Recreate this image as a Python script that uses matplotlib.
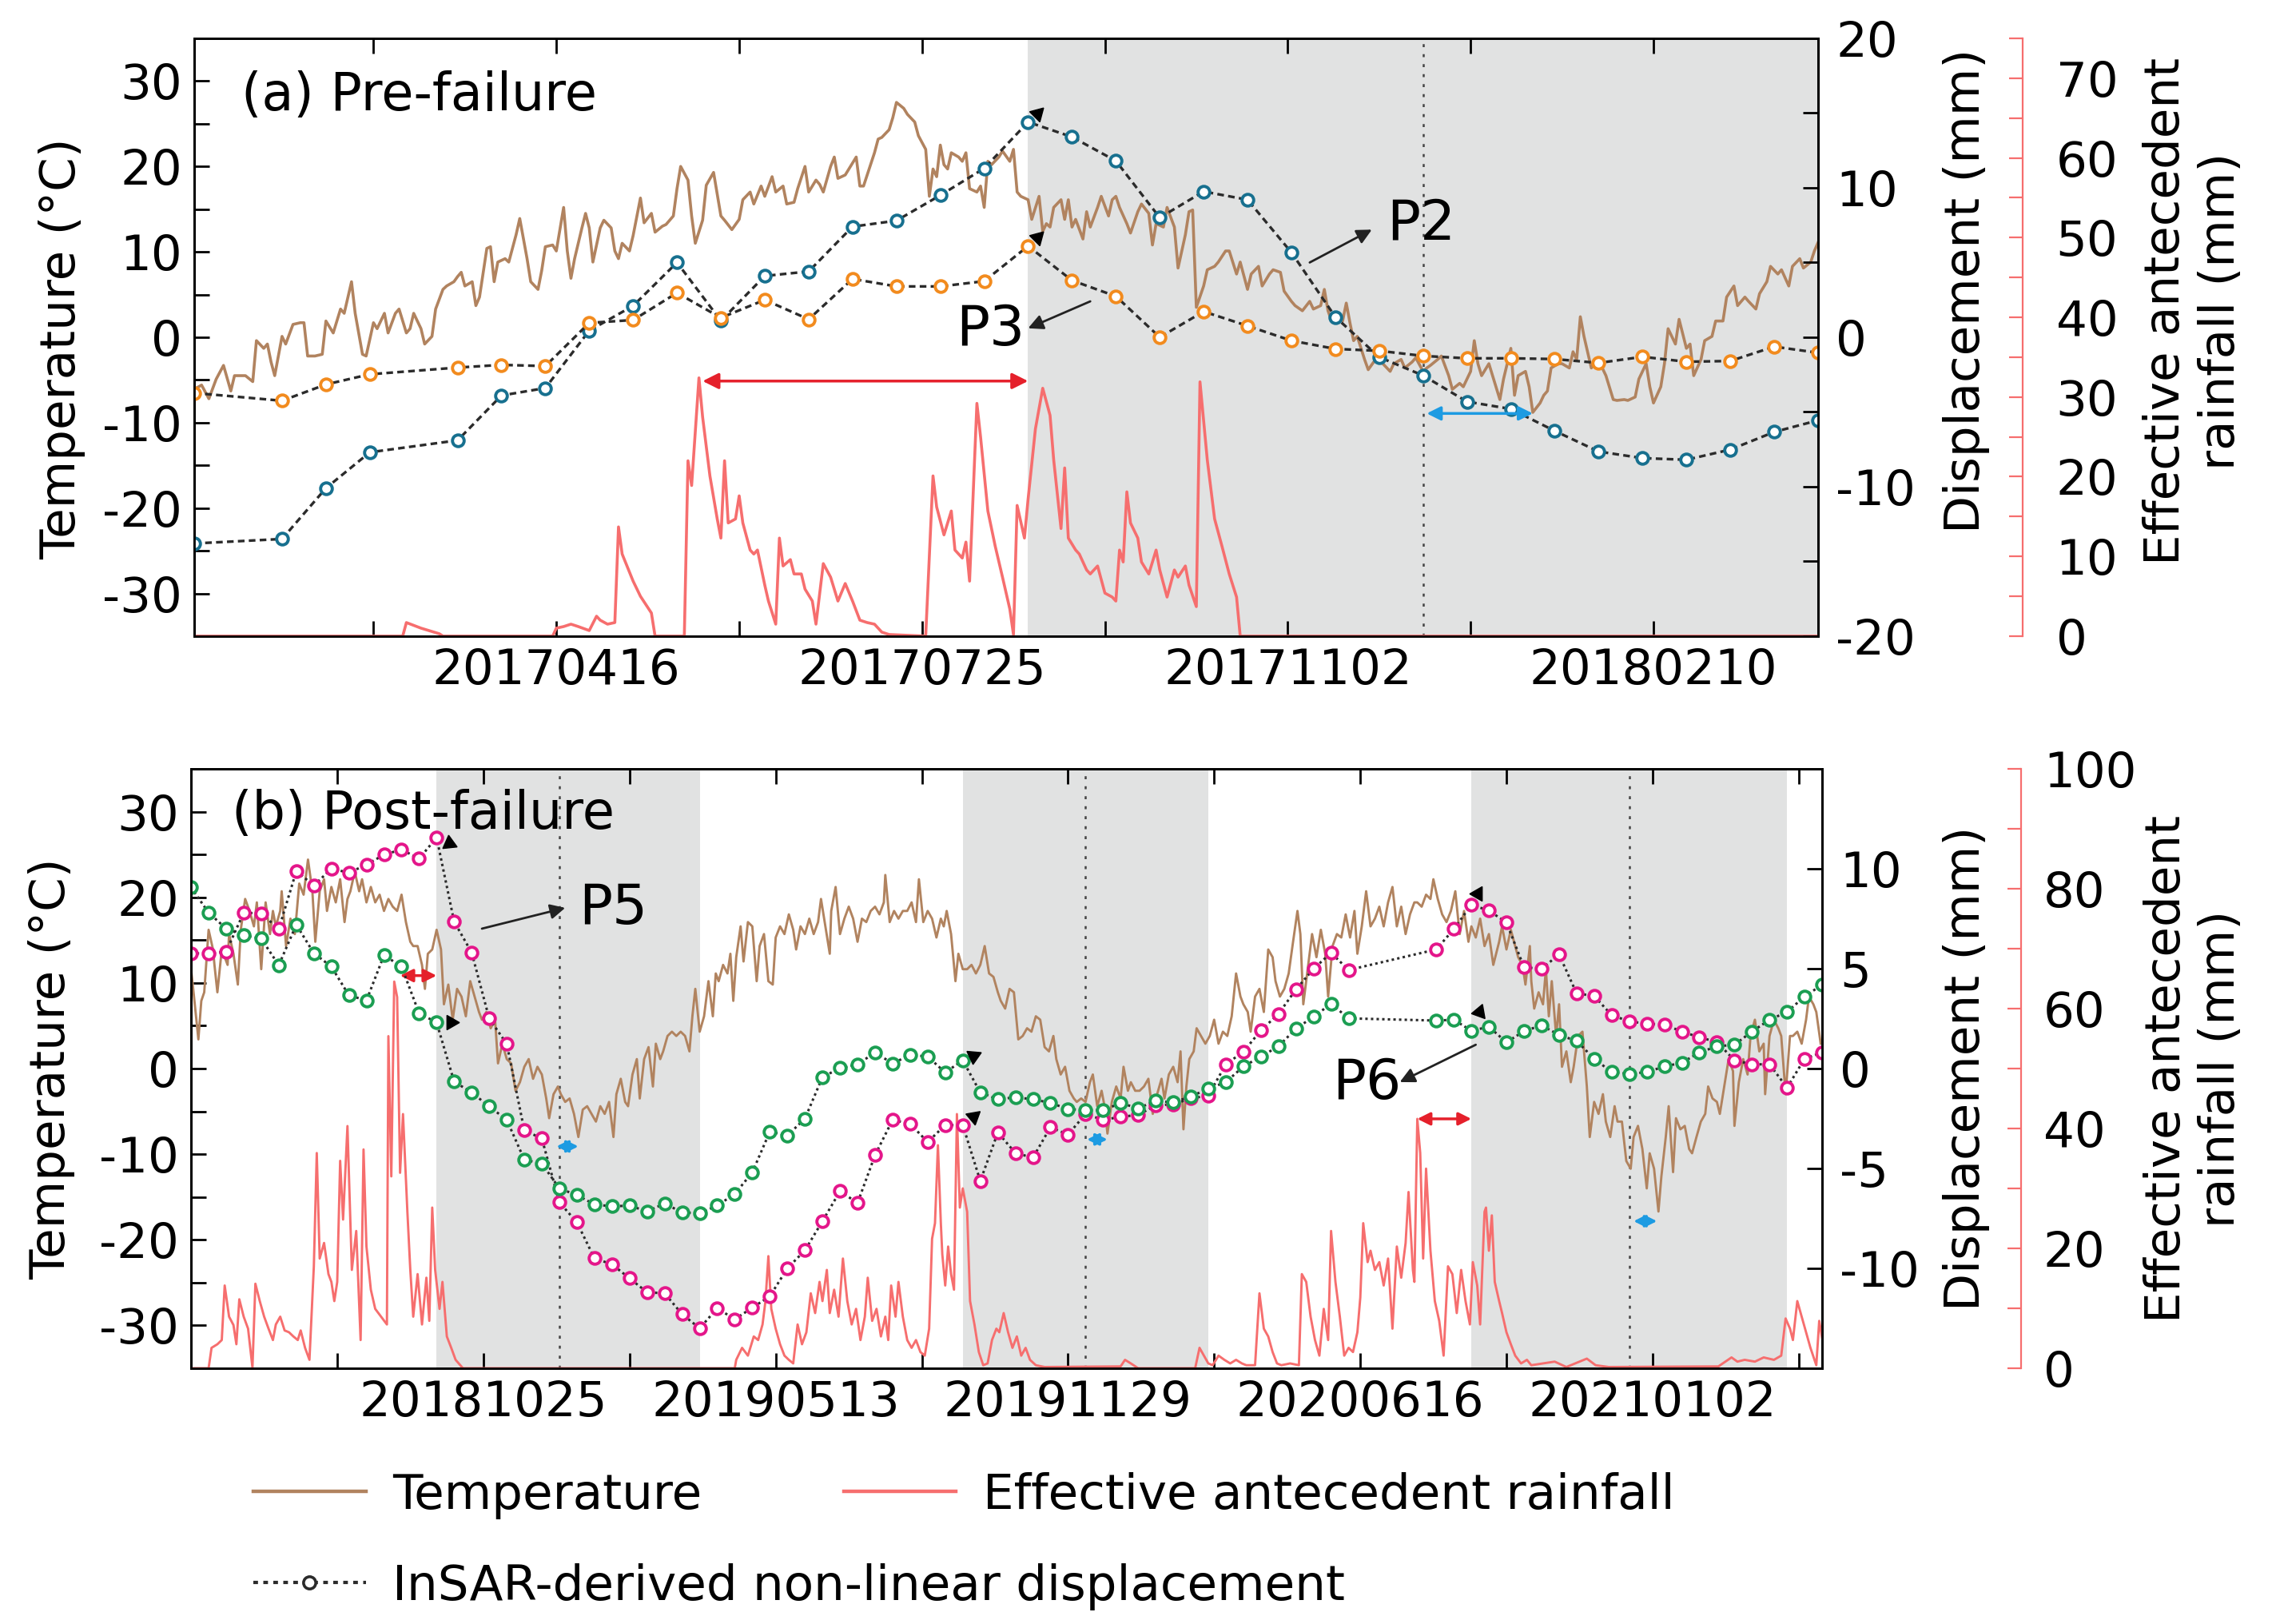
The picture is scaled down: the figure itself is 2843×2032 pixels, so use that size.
import numpy as np
import matplotlib
matplotlib.use('Agg')
import matplotlib.pyplot as plt
import matplotlib.dates as mdates
from matplotlib.lines import Line2D
from matplotlib.ticker import MultipleLocator, FixedLocator
from matplotlib.transforms import ScaledTranslation

plt.rcParams['font.family'] = ['DejaVu Sans']
plt.rcParams['font.size'] = 44
plt.rcParams['axes.linewidth'] = 2.0
plt.rcParams['axes.unicode_minus'] = False

# ---------------- data (days counted from the panel start date) ----------------
START_A = '2017-01-07'
END_A = 444
START_B = '2018-04-08'
END_B = 1116

TICKS_A = ['2017-04-16', '2017-07-25', '2017-11-02', '2018-02-10']
MINOR_A = ['2017-02-25', '2017-06-05', '2017-09-13', '2017-12-22']
TICKS_B = ['2018-10-25', '2019-05-13', '2019-11-29', '2020-06-16', '2021-01-02']
MINOR_B = ['2018-07-17', '2019-02-02', '2019-08-21', '2020-03-08', '2020-09-24', '2021-04-12']

# daily temperature, panel a (day, degC)
TEMP_A = [(0, -6.1), (2, -5.6), (4, -7.2), (6, -4.9), (8, -3.3), (10, -6.3), (11, -4.5), (14, -4.5), (16, -5.2),
          (17, -0.4), (19, -1.3), (20, -0.8), (21, -2.9), (22, -4.5), (24, 0.1), (25, -0.8), (27, 1.5), (29, 1.7),
          (30, 1.7), (31, -2.2), (33, -2.2), (35, -2.0), (36, 1.9), (38, 0.5), (40, 3.3), (41, 2.8), (43, 6.5),
          (44, 2.8), (46, -2.0), (47, -2.2), (49, 1.7), (50, 1.0), (52, 2.8), (53, 0.5), (55, 2.8), (56, 3.3),
          (58, 0.5), (59, 1.0), (60, 2.8), (62, 1.0), (63, -0.8), (65, 0.1), (66, 3.3), (68, 5.6), (69, 6.0),
          (71, 6.5), (72, 7.1), (73, 7.6), (74, 6.0), (76, 6.5), (77, 3.7), (78, 4.7), (80, 10.4), (81, 10.6),
          (82, 6.5), (83, 8.8), (85, 9.2), (86, 8.8), (88, 12.0), (89, 13.9), (91, 9.2), (92, 6.5), (94, 5.6),
          (95, 7.8), (96, 10.6), (98, 10.8), (99, 10.1), (101, 15.2), (102, 10.1), (103, 6.9), (104, 9.2),
          (106, 12.8), (107, 14.5), (108, 12.8), (109, 8.8), (111, 12.8), (112, 13.7), (114, 12.8), (115, 10.1),
          (116, 9.2), (117, 11.0), (119, 10.1), (120, 11.9), (122, 16.3), (123, 13.4), (125, 14.5), (126, 12.3),
          (128, 13.0), (129, 13.2), (131, 14.2), (132, 17.4), (133, 20.0), (135, 18.4), (136, 14.2), (137, 11.0),
          (139, 13.7), (140, 17.8), (142, 19.3), (144, 14.2), (145, 13.7), (147, 12.6), (149, 13.8), (150, 16.1),
          (152, 17.0), (153, 15.6), (155, 17.7), (156, 16.5), (158, 18.8), (159, 17.0), (161, 17.7), (162, 15.6),
          (164, 15.8), (165, 17.4), (167, 20.0), (168, 17.0), (170, 18.4), (171, 17.9), (172, 17.0), (174, 20.0),
          (175, 21.1), (176, 18.6), (178, 19.0), (179, 19.7), (181, 21.1), (182, 17.7), (183, 17.7), (186, 21.6),
          (187, 23.2), (188, 23.4), (190, 24.3), (191, 25.7), (192, 27.5), (194, 26.8), (195, 26.1), (197, 25.2),
          (198, 23.6), (200, 22.0), (201, 16.5), (202, 19.7), (203, 18.8), (204, 22.5), (205, 20.2), (206, 19.7),
          (207, 21.6), (209, 21.1), (210, 20.6), (211, 21.6), (212, 17.4), (214, 17.0), (215, 17.7), (216, 15.2),
          (217, 20.6), (218, 20.2), (220, 21.1), (221, 21.8), (223, 20.6), (224, 22.0), (225, 17.0), (226, 16.5),
          (228, 16.1), (229, 13.8), (231, 16.5), (232, 12.4), (233, 13.3), (234, 12.9), (235, 15.2), (237, 16.1),
          (238, 13.8), (239, 16.1), (240, 12.9), (241, 13.8), (243, 11.5), (244, 14.7), (245, 12.9), (247, 15.2),
          (248, 16.5), (250, 14.2), (251, 16.1), (252, 16.5), (253, 15.2), (255, 13.3), (256, 12.2), (258, 14.7),
          (259, 15.6), (261, 14.5), (262, 10.8), (263, 13.3), (265, 12.9), (266, 15.2), (268, 12.9), (269, 8.1),
          (271, 12.0), (272, 14.7), (273, 14.9), (274, 3.5), (276, 6.0), (277, 7.9), (279, 8.3), (280, 8.8),
          (282, 10.1), (283, 10.1), (285, 7.4), (286, 8.8), (288, 5.6), (289, 7.4), (291, 8.3), (292, 6.0),
          (294, 7.4), (295, 7.9), (297, 7.6), (298, 5.4), (300, 4.2), (301, 3.7), (303, 3.1), (305, 4.2), (306, 3.3),
          (308, 3.7), (309, 5.6), (310, 3.1), (311, 1.9), (313, 2.6), (314, 1.9), (315, 4.0), (316, 1.7),
          (317, -0.4), (318, 0.1), (320, -2.6), (321, -3.8), (323, -2.6), (324, -2.2), (325, -3.1), (327, -4.0),
          (328, -3.1), (330, -2.6), (331, -3.6), (333, -2.9), (334, -2.4), (336, -4.0), (337, -3.6), (338, -3.3),
          (340, -2.6), (341, -2.2), (343, -4.5), (344, -6.1), (346, -5.4), (347, -5.8), (349, -4.0), (350, -0.4),
          (351, -3.1), (352, -4.5), (354, -3.1), (355, -4.5), (357, -7.3), (358, -4.9), (360, -1.3), (361, -6.8),
          (362, -4.5), (364, -4.0), (365, -5.8), (366, -8.8), (368, -7.7), (369, -6.8), (370, -6.3), (371, -3.6),
          (373, -3.1), (374, -3.1), (376, -3.6), (377, -1.7), (378, -2.6), (379, 2.4), (380, 0.1), (382, -3.6),
          (383, -3.1), (385, -3.6), (386, -4.5), (388, -7.3), (389, -7.4), (391, -7.3), (392, -7.4), (394, -7.0),
          (395, -4.9), (397, -3.1), (398, -5.8), (399, -7.7), (401, -5.8), (402, -3.1), (403, 1.0), (405, -0.8),
          (406, 2.1), (408, -1.3), (409, -0.8), (410, -4.5), (412, -2.6), (413, -0.4), (415, 0.1), (416, 1.9),
          (418, 1.9), (419, 4.7), (421, 6.0), (422, 3.7), (424, 4.7), (425, 4.2), (427, 3.3), (428, 5.1),
          (430, 6.5), (431, 8.3), (433, 7.4), (434, 7.9), (436, 6.0), (437, 8.3), (439, 9.2), (440, 8.1),
          (442, 8.8), (443, 10.1), (444, 11.1)]

# effective antecedent rainfall, panel a (day, mm)
RAIN_A = [(0, 0), (57, 0), (58, 1.7), (62, 1.0), (67, 0.3), (68, 0), (98, 0), (99, 1.0), (101, 1.2), (103, 1.5),
          (105, 1.2), (108, 0.7), (110, 2.5), (111, 2.0), (113, 1.5), (115, 1.7), (116, 13.7), (117, 10.3),
          (120, 6.9), (122, 5.0), (125, 2.9), (126, 0), (134, 0), (135, 22.0), (136, 18.9), (138, 32.4),
          (139, 27.5), (141, 20.1), (143, 14.7), (144, 12.3), (145, 22.0), (146, 14.2), (148, 14.7), (149, 17.6),
          (150, 14.2), (152, 10.8), (153, 10.3), (154, 10.8), (156, 6.4), (157, 4.4), (159, 1.5), (160, 12.3),
          (161, 8.8), (163, 9.6), (164, 7.8), (166, 7.8), (167, 5.9), (169, 4.4), (170, 1.5), (172, 9.1),
          (174, 7.4), (176, 4.4), (178, 6.6), (180, 4.4), (182, 2.0), (184, 1.7), (186, 1.5), (188, 0.5),
          (190, 0.2), (200, 0), (202, 20.1), (203, 16.2), (205, 12.7), (207, 15.7), (208, 10.8), (210, 9.8),
          (211, 11.8), (212, 6.9), (214, 29.2), (215, 25.0), (217, 15.7), (219, 11.3), (221, 7.4), (223, 3.4),
          (224, 0.2), (225, 16.4), (227, 12.3), (228, 17.2), (230, 26.0), (232, 31.1), (234, 27.7), (235, 22.1),
          (237, 13.5), (238, 21.1), (239, 12.3), (241, 10.8), (242, 10.3), (244, 8.3), (245, 7.8), (247, 8.8),
          (249, 5.4), (251, 4.9), (252, 4.4), (253, 10.8), (254, 9.3), (255, 18.1), (256, 14.2), (258, 12.3),
          (259, 9.3), (261, 7.8), (263, 10.8), (264, 8.3), (266, 4.9), (268, 8.3), (269, 7.4), (271, 8.8),
          (272, 6.4), (274, 3.7), (275, 31.9), (277, 22.1), (279, 14.7), (281, 11.3), (283, 7.8), (285, 4.9),
          (286, 0), (444, 0)]

# InSAR acquisitions, panel a
SAR_A = [0, 24, 36, 48] + [72 + 12 * k for k in range(32)]
P2 = [-13.8, -13.5, -10.1, -7.7, -6.9, -3.9, -3.4, 0.44, 2.1, 5.0, 1.1, 4.1, 4.4, 7.4, 7.8, 9.5, 11.3, 14.4,
      13.4, 11.8, 8.0, 9.75, 9.2, 5.67, 1.36, -1.33, -2.56, -4.31, -4.8, -6.27, -7.65, -8.09, -8.2, -7.52,
      -6.34, -5.56]
P3 = [-3.73, -4.25, -3.16, -2.48, -2.03, -1.85, -1.93, 0.96, 1.15, 2.97, 1.3, 2.5, 1.2, 3.9, 3.4, 3.4, 3.75, 6.1,
      3.8, 2.74, 0.0, 1.72, 0.76, -0.23, -0.78, -0.91, -1.25, -1.41, -1.41, -1.46, -1.72, -1.31, -1.64, -1.59,
      -0.63, -1.04]

# daily temperature, panel b (day, degC)
TEMP_B = [(0, 11.6), (2, 8.4), (5, 3.4), (7, 7.9), (9, 8.9), (12, 16.2), (15, 13.9), (16, 12.1), (18, 8.9),
          (21, 13.9), (25, 12.1), (26, 15.7), (29, 13.4), (32, 9.8), (34, 16.2), (37, 19.8), (40, 18.4), (43, 16.6),
          (45, 19.4), (48, 11.6), (51, 19.4), (54, 15.7), (56, 18.4), (58, 16.6), (61, 18.4), (62, 20.7), (65, 14.3),
          (68, 17.5), (71, 15.7), (74, 21.6), (77, 20.3), (80, 24.4), (83, 20.7), (85, 14.8), (88, 20.7), (91, 22.1),
          (93, 18.4), (96, 21.2), (99, 19.4), (102, 22.1), (105, 17.1), (107, 19.8), (109, 20.7), (112, 23.0),
          (115, 20.7), (117, 22.1), (120, 19.4), (123, 21.2), (126, 19.4), (129, 20.3), (132, 18.4), (135, 19.8),
          (138, 18.9), (141, 18.4), (144, 20.3), (147, 17.1), (150, 14.8), (152, 14.3), (155, 14.3), (158, 12.1),
          (160, 9.3), (162, 13.4), (165, 13.9), (168, 16.2), (171, 13.9), (173, 7.5), (176, 9.8), (179, 5.7),
          (182, 9.3), (185, 8.4), (188, 6.1), (191, 10.2), (194, 8.4), (197, 6.6), (199, 5.7), (202, 6.6),
          (205, 4.7), (208, 5.7), (210, 0.6), (213, 2.9), (216, 1.1), (219, 0.6), (222, -2.6), (225, -1.6),
          (228, 0.2), (231, 1.1), (234, -1.2), (237, 0.2), (240, -0.7), (243, -3.5), (245, -5.8), (248, -3.0),
          (251, -2.1), (253, -3.0), (256, -3.9), (259, -3.5), (262, -5.3), (265, -8.0), (268, -4.8), (271, -4.4),
          (274, -5.3), (277, -6.2), (280, -4.4), (283, -5.3), (286, -3.9), (289, -8.0), (291, -3.0), (294, -1.2),
          (297, -3.9), (299, -4.4), (302, -0.7), (305, 1.1), (307, -3.5), (310, 1.1), (313, 2.5), (316, -2.1),
          (318, 2.9), (321, 1.1), (323, 2.0), (326, 3.8), (329, 4.3), (332, 3.8), (335, 4.3), (338, 3.8),
          (341, 2.0), (343, 6.1), (345, 9.3), (348, 4.3), (351, 6.1), (354, 10.2), (357, 6.1), (359, 11.1),
          (361, 10.2), (364, 12.1), (367, 11.1), (369, 13.4), (371, 7.9), (373, 13.0), (376, 16.6), (378, 12.5),
          (381, 17.1), (384, 16.6), (387, 10.2), (389, 14.3), (392, 15.7), (395, 10.2), (398, 9.8), (400, 15.3),
          (403, 16.6), (406, 15.7), (409, 18.0), (412, 16.2), (414, 13.9), (417, 16.6), (420, 15.7), (423, 17.5),
          (426, 15.7), (429, 17.1), (431, 19.8), (434, 16.6), (437, 13.4), (438, 18.4), (441, 21.2), (444, 15.7),
          (447, 17.5), (450, 18.9), (453, 17.5), (456, 14.8), (459, 17.5), (462, 17.1), (465, 18.4), (468, 18.9),
          (471, 18.0), (474, 19.4), (475, 22.6), (478, 17.1), (481, 18.4), (484, 17.5), (487, 18.4), (490, 18.4),
          (493, 19.4), (496, 17.1), (498, 22.1), (501, 17.1), (504, 18.4), (507, 17.5), (510, 15.3), (513, 17.5),
          (515, 16.6), (517, 18.4), (520, 15.7), (523, 10.2), (525, 13.4), (528, 11.6), (531, 11.6), (534, 12.1),
          (537, 11.1), (540, 12.1), (543, 14.3), (546, 11.1), (549, 10.7), (552, 8.9), (554, 7.9), (557, 7.0),
          (560, 9.3), (563, 8.9), (566, 3.4), (569, 3.8), (572, 4.7), (575, 4.3), (578, 6.1), (581, 5.7),
          (584, 2.5), (587, 2.0), (590, 3.8), (592, 1.1), (595, -0.7), (598, 0.2), (601, -2.6), (604, -3.5),
          (606, -3.9), (609, -3.5), (612, -3.9), (615, -1.6), (617, -0.7), (620, -4.4), (623, -2.6), (625, -4.4),
          (627, -7.6), (630, -3.9), (633, -2.1), (636, -3.5), (638, 0.2), (641, -2.6), (643, -1.6), (646, -2.6),
          (649, -2.6), (652, -2.1), (655, -1.2), (658, -5.3), (661, -3.0), (664, -1.2), (666, -3.5), (669, -0.7),
          (672, 0.2), (675, -1.6), (677, 2.0), (679, -7.1), (681, -2.1), (683, 1.1), (686, 2.0), (688, 4.7),
          (691, 3.8), (694, 2.9), (697, 3.8), (700, 5.7), (703, 2.9), (706, 4.3), (709, 3.8), (712, 6.1),
          (715, 11.1), (718, 8.4), (720, 7.5), (723, 6.6), (725, 4.3), (728, 8.4), (731, 9.3), (734, 6.6),
          (737, 13.9), (740, 13.0), (742, 10.2), (745, 8.4), (748, 9.3), (751, 11.1), (754, 14.8), (757, 18.4),
          (759, 15.7), (761, 7.5), (764, 11.6), (767, 15.7), (770, 13.0), (773, 16.2), (776, 13.4), (778, 8.4),
          (781, 14.3), (784, 15.7), (787, 15.3), (790, 18.0), (793, 15.3), (796, 18.4), (798, 13.4), (801, 16.6),
          (804, 20.7), (807, 16.6), (810, 17.5), (813, 18.9), (816, 16.6), (819, 19.4), (822, 21.2), (825, 16.6),
          (828, 18.9), (831, 15.7), (834, 18.0), (837, 19.4), (839, 19.4), (842, 18.9), (845, 20.3), (848, 19.8),
          (850, 22.1), (853, 19.8), (856, 18.0), (859, 17.1), (862, 18.4), (865, 20.7), (868, 15.7), (871, 18.4),
          (874, 14.8), (876, 16.6), (879, 15.3), (882, 17.5), (885, 14.3), (888, 15.7), (891, 12.1), (895, 14.8),
          (897, 16.6), (900, 13.9), (903, 16.2), (906, 14.3), (908, 13.0), (911, 12.1), (913, 9.8), (916, 14.3),
          (917, 10.2), (919, 7.0), (922, 8.9), (925, 7.5), (927, 11.6), (929, 6.1), (931, 10.2), (934, 3.8),
          (936, 7.5), (938, 0.2), (941, 2.0), (944, -1.6), (946, 0.2), (949, 3.8), (952, 4.3), (955, -2.1),
          (957, -8.0), (960, -3.9), (963, -5.3), (966, -3.0), (968, -6.2), (971, -8.0), (974, -4.4), (976, -6.2),
          (979, -6.2), (982, -10.8), (985, -11.7), (987, -8.0), (990, -6.7), (993, -9.4), (996, -14.0),
          (998, -9.9), (1001, -11.7), (1004, -16.7), (1006, -12.6), (1009, -8.0), (1011, -4.4), (1014, -12.1),
          (1016, -5.8), (1019, -7.1), (1022, -6.7), (1025, -9.4), (1027, -9.9), (1030, -8.0), (1033, -6.2),
          (1036, -5.3), (1038, -2.1), (1041, -3.5), (1044, -3.9), (1046, -5.3), (1049, -2.1), (1052, 1.1),
          (1055, -0.3), (1056, -6.7), (1059, -1.6), (1062, 1.1), (1065, -0.7), (1067, 3.8), (1070, 5.7),
          (1073, 2.0), (1076, 2.9), (1077, -3.0), (1080, 3.8), (1083, 5.7), (1086, 4.7), (1088, 3.8), (1091, -3.0),
          (1094, 3.8), (1096, 3.8), (1099, 4.3), (1102, 2.9), (1105, 5.7), (1107, 8.4), (1110, 7.5), (1112, 6.6),
          (1115, 2.9)]

# effective antecedent rainfall, panel b (day, mm)
RAIN_B = [(0, 0), (12, 0), (14, 3.4), (18, 4.0), (21, 4.7), (23, 13.8), (26, 8.6), (29, 7.2), (31, 4.0), (33, 11.5),
          (36, 8.6), (39, 6.6), (42, 0.1), (44, 14.1), (47, 11.2), (50, 8.6), (53, 6.6), (56, 4.7), (58, 7.3),
          (61, 8.6), (64, 6.3), (67, 6.0), (70, 5.3), (73, 4.7), (75, 6.3), (78, 3.4), (81, 1.4), (84, 17.0),
          (86, 35.9), (88, 18.3), (91, 20.9), (94, 15.7), (96, 14.4), (98, 11.2), (100, 14.4), (102, 34.6),
          (104, 24.8), (107, 40.4), (110, 16.4), (113, 22.9), (116, 4.7), (118, 36.5), (120, 20.3), (123, 13.1),
          (126, 9.9), (130, 8.6), (134, 7.3), (135, 55.4), (137, 32.0), (139, 64.5), (141, 61.9), (143, 32.6),
          (145, 42.4), (148, 26.1), (150, 16.4), (152, 8.6), (155, 15.7), (158, 7.3), (161, 15.1), (163, 7.9),
          (165, 26.8), (167, 16.4), (170, 9.9), (172, 14.4), (175, 5.3), (178, 3.4), (181, 1.4), (186, 0),
          (372, 0), (373, 1.4), (377, 3.4), (381, 2.1), (385, 5.3), (388, 4.7), (391, 7.3), (393, 11.2),
          (395, 18.7), (397, 9.9), (400, 6.6), (403, 4.0), (406, 2.1), (409, 1.4), (412, 0.8), (415, 7.3),
          (418, 4.0), (421, 6.0), (424, 12.5), (427, 9.2), (430, 14.4), (432, 11.2), (435, 16.4), (437, 9.2),
          (440, 13.1), (443, 8.6), (446, 18.3), (449, 11.2), (452, 7.3), (455, 9.9), (458, 4.7), (461, 8.6),
          (463, 15.1), (466, 7.9), (469, 9.9), (472, 5.3), (475, 8.6), (477, 4.7), (479, 13.8), (482, 8.6),
          (484, 14.4), (487, 8.6), (490, 4.7), (493, 3.4), (496, 4.7), (499, 2.7), (502, 2.1), (505, 6.6),
          (507, 21.6), (509, 24.2), (511, 37.2), (513, 24.2), (514, 19.0), (516, 13.8), (518, 20.3), (520, 15.7),
          (522, 13.1), (524, 42.4), (526, 26.8), (528, 30.0), (531, 26.1), (533, 11.2), (536, 7.3), (539, 2.7),
          (542, 0.5), (545, 0.8), (548, 4.7), (551, 6.6), (553, 6.0), (556, 9.2), (559, 6.0), (562, 3.4),
          (565, 5.3), (568, 2.1), (571, 3.4), (574, 1.4), (578, 0.5), (584, 0.2), (636, 0.3), (639, 1.4),
          (643, 0.8), (648, 0), (687, 0), (690, 3.4), (693, 2.1), (696, 0.8), (699, 0.5), (703, 2.1), (707, 1.4),
          (711, 0.8), (715, 1.4), (719, 0.8), (722, 0.5), (728, 0.5), (731, 12.5), (734, 6.6), (737, 5.3),
          (740, 2.7), (743, 0.8), (746, 0.5), (752, 0.8), (758, 0.5), (760, 15.7), (763, 14.4), (766, 8.6),
          (769, 4.7), (772, 2.1), (775, 9.9), (778, 4.7), (780, 22.9), (783, 14.4), (786, 8.6), (789, 2.1),
          (792, 3.4), (795, 2.7), (798, 6.0), (800, 11.8), (802, 24.2), (805, 17.7), (807, 19.6), (810, 16.4),
          (813, 17.7), (816, 13.8), (819, 18.3), (822, 6.6), (825, 20.3), (828, 15.1), (831, 20.9), (833, 29.4),
          (836, 16.4), (837, 14.4), (839, 41.6), (841, 35.9), (843, 18.3), (845, 33.3), (848, 19.6), (851, 11.2),
          (854, 7.9), (857, 2.1), (860, 17.0), (863, 15.7), (866, 9.2), (869, 16.4), (872, 11.2), (875, 7.3),
          (877, 17.7), (880, 13.8), (882, 7.3), (885, 26.1), (886, 26.8), (888, 19.6), (890, 25.5), (892, 14.4),
          (895, 11.2), (897, 9.2), (900, 6.0), (903, 4.0), (906, 2.1), (910, 0.8), (914, 1.4), (917, 0.5),
          (933, 1.1), (941, 0.2), (955, 1.6), (961, 0.5), (970, 0.2), (1045, 0.3), (1054, 1.8), (1058, 1.1),
          (1063, 1.4), (1070, 1.1), (1076, 1.8), (1083, 1.4), (1088, 2.1), (1091, 8.3), (1094, 6.6), (1096, 4.7),
          (1099, 11.2), (1102, 8.6), (1105, 6.0), (1108, 3.4), (1112, 0.5), (1114, 7.9), (1116, 5.0)]

# InSAR acquisitions, panel b (12-day revisit, four scenes missing in mid 2020)
SAR_B = [12 * n for n in range(94) if n not in (67, 68, 69, 70)]
P5 = [5.77, 5.75, 5.85, 7.8, 7.76, 6.98, 9.88, 9.16, 10.0, 9.8,
      10.2, 10.7, 10.96, 10.5, 11.56, 7.35, 5.8, 2.5, 1.23, -3.1,
      -3.5, -6.7, -7.7, -9.5, -9.8, -10.5, -11.2, -11.25, -12.3, -13.0,
      -12.0, -12.55, -11.97, -11.4, -10.0, -9.1, -7.64, -6.14, -6.73, -4.33,
      -2.57, -2.77, -3.68, -2.83, -2.83, -5.63, -3.2, -4.23, -4.46, -2.94,
      -3.31, -2.28, -2.57, -2.42, -2.32, -1.85, -1.79, -1.5, -1.35, 0.21,
      0.84, 1.91, 2.73, 3.96, 4.99, 5.79, 4.93,
      5.96, 6.98, 8.2, 7.9, 7.31, 5.07, 4.99, 5.71, 3.76, 3.63,
      2.67, 2.36, 2.24, 2.2, 1.85, 1.56, 1.33, 0.41, 0.21, 0.21,
      -0.96, 0.49, 0.8]
P6 = [9.06, 7.8, 7.0, 6.67, 6.5, 5.17, 7.2, 5.77, 5.1, 3.66,
      3.41, 5.67, 5.1, 2.77, 2.3, -0.66, -1.2, -1.9, -2.57, -4.56,
      -4.76, -6.0, -6.34, -6.8, -6.9, -6.86, -7.15, -6.76, -7.2, -7.25,
      -6.86, -6.28, -5.2, -3.16, -3.35, -2.51, -0.43, 0.02, 0.21, 0.8,
      0.25, 0.68, 0.6, -0.2, 0.41, -1.2, -1.54, -1.44, -1.54, -1.72,
      -2.03, -2.09, -2.09, -1.73, -1.99, -1.62, -1.7, -1.4, -1.01, -0.68,
      0.1, 0.6, 1.11, 2.0, 2.59, 3.24, 2.51,
      2.4, 2.44, 1.89, 2.09, 1.31, 1.87, 2.16, 1.68, 1.38, 0.49,
      -0.18, -0.27, -0.18, 0.1, 0.29, 0.8, 1.11, 1.19, 1.85, 2.44,
      2.83, 3.61, 4.19]

# periods, markers and arrows (days)
SHADE_A = [(228, 444)]
SHADE_B = [(168, 348), (528, 696), (876, 1092)]
VLINE_A = [336]
VLINE_B = [252, 612, 984]
RAIN_ARROW_A = [(139, 228, 32.0)]
RAIN_ARROW_B = [(143, 168, 65.5), (839, 876, 41.6)]
TEMP_ARROW_A = [(337, 366, -5.1)]
TEMP_ARROW_B = [(250, 265, -3.9), (613, 627, -3.55), (987, 1003, -7.64)]

C_TEMP = '#b1835f'
C_RAIN = '#f66e6e'
C_BLUE = '#17708f'
C_ORANGE = '#f28b1e'
C_PINK = '#e4168a'
C_GREEN = '#1b9e52'
C_SHADE = '#e1e2e2'
C_DARK = '#2b2b2b'


def dnum(start, days):
    return mdates.date2num(np.datetime64(start) + np.array(days, dtype='timedelta64[D]'))


def setup_panel(ax, start, end_day, majors, minors):
    ax.set_xlim(dnum(start, [0, end_day]))
    ax.xaxis.set_major_locator(FixedLocator(mdates.date2num(np.array(majors, dtype='datetime64[D]'))))
    ax.xaxis.set_minor_locator(FixedLocator(mdates.date2num(np.array(minors, dtype='datetime64[D]'))))
    ax.xaxis.set_major_formatter(mdates.DateFormatter('%Y%m%d'))
    ax.set_ylim(-35, 35)
    ax.yaxis.set_major_locator(MultipleLocator(10))
    ax.yaxis.set_minor_locator(MultipleLocator(5))
    ax.tick_params(axis='x', which='both', direction='in', top=True, bottom=True, length=14, width=2, pad=10)
    ax.tick_params(axis='y', which='both', direction='in', left=True, right=False, length=14, width=2, pad=11)
    ax.set_ylabel('Temperature (°C)')


fig = plt.figure(figsize=(28.43, 20.32), dpi=100)

# ---------------- panel a ----------------
axA = fig.add_axes([0.0855, 0.6083, 0.7147, 0.3681])
setup_panel(axA, START_A, END_A, TICKS_A, MINOR_A)
axA.yaxis.set_label_coords(-0.067, 0.481)
for s, e in SHADE_A:
    axA.axvspan(dnum(START_A, s), dnum(START_A, e), color=C_SHADE, lw=0, zorder=0)
d, v = zip(*TEMP_A)
axA.plot(dnum(START_A, d), v, color=C_TEMP, lw=2.6, zorder=2)
for dd in VLINE_A:
    axA.axvline(dnum(START_A, dd), color='#444444', lw=1.8, ls=(0, (1.5, 3.5)), zorder=1)

rA = axA.twinx()
rA.set_ylim(0, 75)
rA.yaxis.set_major_locator(MultipleLocator(10))
rA.yaxis.set_minor_locator(MultipleLocator(5))
for sp in ['left', 'top', 'bottom']:
    rA.spines[sp].set_visible(False)
rA.spines['right'].set_position(('axes', 1.126))
rA.spines['right'].set_color(C_RAIN)
rA.spines['right'].set_linewidth(1.6)
rA.tick_params(axis='y', which='both', direction='in', colors=C_RAIN, labelcolor='black', length=12, width=1.6, pad=30)
d, v = zip(*RAIN_A)
rA.plot(dnum(START_A, d), v, color=C_RAIN, lw=2.6)
for s, e, y in RAIN_ARROW_A:
    rA.annotate('', xy=(dnum(START_A, e), y), xytext=(dnum(START_A, s), y),
                arrowprops=dict(arrowstyle='<|-|>', color='#e5202b', lw=2.5, mutation_scale=30, shrinkA=0, shrinkB=0))
rA.set_ylabel('Effective antecedent\nrainfall (mm)', multialignment='center')
rA.yaxis.set_label_coords(1.200, 0.543)

dA = axA.twinx()
dA.set_ylim(-20, 20)
dA.yaxis.set_major_locator(MultipleLocator(10))
dA.yaxis.set_minor_locator(MultipleLocator(5))
dA.tick_params(axis='y', which='both', direction='in', length=14, width=2, pad=16)
xa = dnum(START_A, SAR_A)
for vals, col in [(P2, C_BLUE), (P3, C_ORANGE)]:
    dA.plot(xa, vals, color=C_DARK, lw=2.4, ls=(0, (2.5, 1.6)), marker='o', ms=10.5, mfc='white', mec=col, mew=2.8)
for s, e, y in TEMP_ARROW_A:
    dA.annotate('', xy=(dnum(START_A, s), y), xytext=(dnum(START_A, e), y),
                arrowprops=dict(arrowstyle='<|-|>', color='#1d9be2', lw=2.5, mutation_scale=26, shrinkA=0, shrinkB=0))
dA.set_ylabel('Displacement (mm)')
dA.yaxis.set_label_coords(1.077, 0.578)

# turning points (small black heads)
for val, dx, dy, rot in [(14.4, 12, 11, -45), (6.1, 12, 11, -45)]:
    tr = dA.transData + ScaledTranslation(dx / 100, dy / 100, fig.dpi_scale_trans)
    dA.plot([dnum(START_A, 228)], [val], marker=(3, 0, rot), ms=15, color='black', transform=tr, zorder=5)

dA.annotate('', xy=(dnum(START_A, 322), 7.2), xytext=(dnum(START_A, 305), 5.0),
            arrowprops=dict(arrowstyle='-|>', color='#222222', lw=2, mutation_scale=28, shrinkA=0, shrinkB=0))
dA.text(dnum(START_A, 326), 7.6, 'P2', fontsize=50, ha='left', va='center')
dA.annotate('', xy=(dnum(START_A, 228), 0.6), xytext=(dnum(START_A, 245), 2.4),
            arrowprops=dict(arrowstyle='-|>', color='#222222', lw=2, mutation_scale=28, shrinkA=0, shrinkB=0))
dA.text(dnum(START_A, 227), 0.5, 'P3', fontsize=50, ha='right', va='center')
dA.text(0.029, 0.904, '(a) Pre-failure', transform=axA.transAxes, fontsize=47, ha='left', va='center')

# ---------------- panel b ----------------
axB = fig.add_axes([0.0841, 0.1575, 0.7179, 0.3691])
setup_panel(axB, START_B, END_B, TICKS_B, MINOR_B)
axB.yaxis.set_label_coords(-0.071, 0.5)
for s, e in SHADE_B:
    axB.axvspan(dnum(START_B, s), dnum(START_B, e), color=C_SHADE, lw=0, zorder=0)
d, v = zip(*TEMP_B)
axB.plot(dnum(START_B, d), v, color=C_TEMP, lw=2.1, zorder=2)
for dd in VLINE_B:
    axB.axvline(dnum(START_B, dd), color='#444444', lw=1.8, ls=(0, (1.5, 3.5)), zorder=1)

rB = axB.twinx()
rB.set_ylim(0, 100)
rB.yaxis.set_major_locator(MultipleLocator(20))
rB.yaxis.set_minor_locator(MultipleLocator(10))
for sp in ['left', 'top', 'bottom']:
    rB.spines[sp].set_visible(False)
rB.spines['right'].set_position(('axes', 1.122))
rB.spines['right'].set_color(C_RAIN)
rB.spines['right'].set_linewidth(1.6)
rB.tick_params(axis='y', which='both', direction='in', colors=C_RAIN, labelcolor='black', length=12, width=1.6, pad=20)
d, v = zip(*RAIN_B)
rB.plot(dnum(START_B, d), v, color=C_RAIN, lw=2.1)
for s, e, y in RAIN_ARROW_B:
    rB.annotate('', xy=(dnum(START_B, e), y), xytext=(dnum(START_B, s), y),
                arrowprops=dict(arrowstyle='<|-|>', color='#e5202b', lw=2.5, mutation_scale=24, shrinkA=0, shrinkB=0))
rB.set_ylabel('Effective antecedent\nrainfall (mm)', multialignment='center')
rB.yaxis.set_label_coords(1.197, 0.5)

dB = axB.twinx()
dB.set_ylim(-15, 15)
dB.yaxis.set_major_locator(FixedLocator([-10, -5, 0, 5, 10]))
dB.tick_params(axis='y', which='both', direction='in', length=14, width=2, pad=16)
xb = dnum(START_B, SAR_B)
for vals, col in [(P5, C_PINK), (P6, C_GREEN)]:
    dB.plot(xb, vals, color=C_DARK, lw=2.2, ls=(0, (1, 1.3)), marker='o', ms=10.5, mfc='white', mec=col, mew=2.8)
for s, e, y in TEMP_ARROW_B:
    dB.annotate('', xy=(dnum(START_B, s), y), xytext=(dnum(START_B, e), y),
                arrowprops=dict(arrowstyle='<|-|>', color='#1d9be2', lw=2.5, mutation_scale=22, shrinkA=0, shrinkB=0))
dB.set_ylabel('Displacement (mm)')
dB.yaxis.set_label_coords(1.074, 0.5)

for day, val, dx, dy, rot in [(168, 11.56, 16, -7, -114), (168, 2.3, 18, 0, -90),
                              (528, 0.41, 13, 6, -65), (528, -2.83, 13, 11, -50),
                              (876, 8.2, 8, 14, -30), (876, 1.89, 10, 24, -20)]:
    tr = dB.transData + ScaledTranslation(dx / 100, dy / 100, fig.dpi_scale_trans)
    dB.plot([dnum(START_B, day)], [val], marker=(3, 0, rot), ms=15, color='black', transform=tr, zorder=5)

dB.annotate('', xy=(dnum(START_B, 256), 8.04), xytext=(dnum(START_B, 199), 7.0),
            arrowprops=dict(arrowstyle='-|>', color='#222222', lw=2, mutation_scale=28, shrinkA=0, shrinkB=0))
dB.text(dnum(START_B, 265), 8.0, 'P5', fontsize=50, ha='left', va='center')
dB.annotate('', xy=(dnum(START_B, 827), -0.68), xytext=(dnum(START_B, 879), 1.19),
            arrowprops=dict(arrowstyle='-|>', color='#222222', lw=2, mutation_scale=28, shrinkA=0, shrinkB=0))
dB.text(dnum(START_B, 781), -0.76, 'P6', fontsize=50, ha='left', va='center')
dB.text(0.025, 0.924, '(b) Post-failure', transform=axB.transAxes, fontsize=47, ha='left', va='center')

# ---------------- legend ----------------
h_t = Line2D([], [], color=C_TEMP, lw=3.2)
h_r = Line2D([], [], color=C_RAIN, lw=3.2)
h_d = Line2D([], [], color=C_DARK, lw=3.0, ls=(0, (1.4, 1.6)), marker='o', ms=11, mfc='white', mec=C_DARK, mew=2.6)
fig.legend([h_t, h_r], ['Temperature', 'Effective antecedent rainfall'], loc='center left',
           bbox_to_anchor=(0.1115, 0.0792), ncol=2, frameon=False, borderpad=0, borderaxespad=0,
           handlelength=2.3, handletextpad=0.55, columnspacing=2.9)
fig.legend([h_d], ['InSAR-derived non-linear displacement'], loc='center left',
           bbox_to_anchor=(0.1115, 0.0231), frameon=False, borderpad=0, borderaxespad=0,
           handlelength=2.3, handletextpad=0.55)

fig.savefig('out.png', dpi=100)
